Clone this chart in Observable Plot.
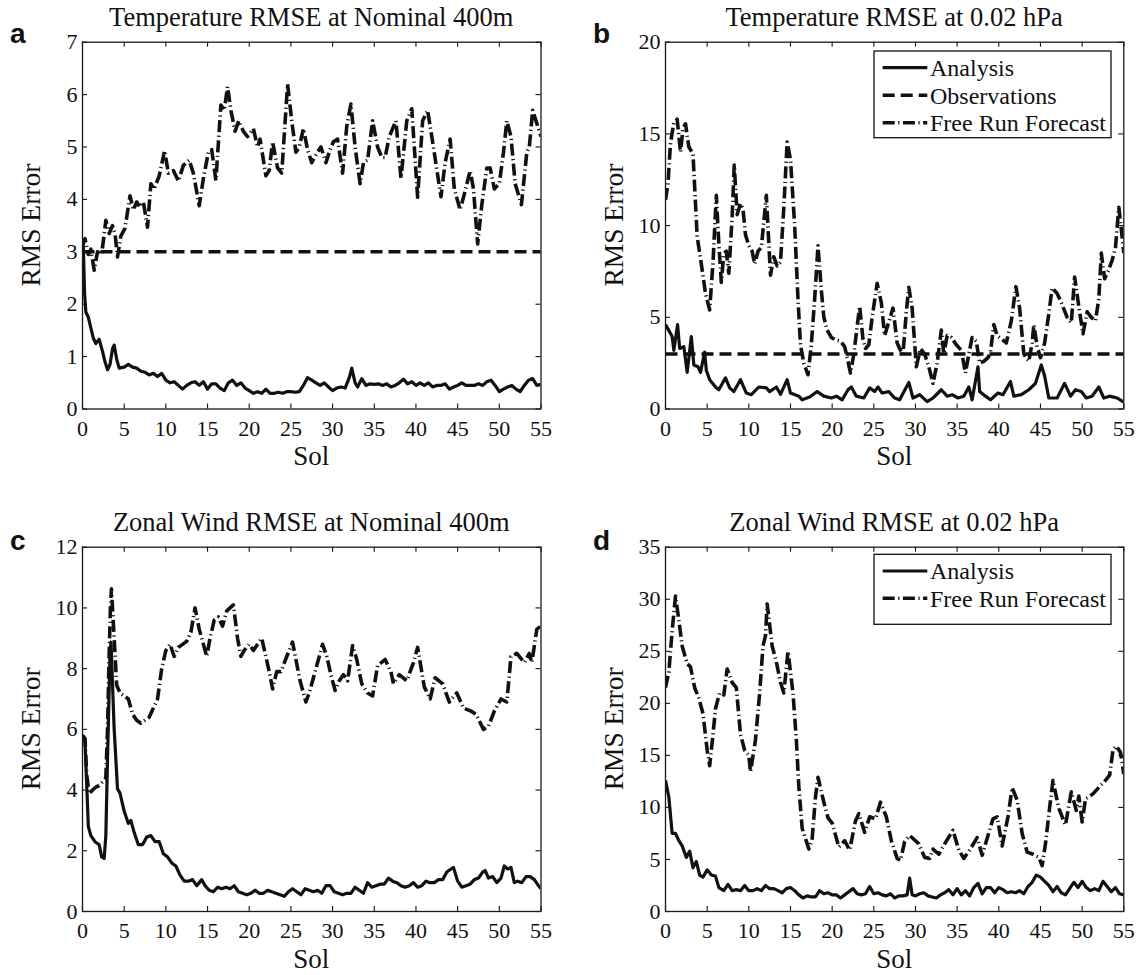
<!DOCTYPE html>
<html><head><meta charset="utf-8">
<script src="https://cdn.jsdelivr.net/npm/d3@7"></script>
<script src="https://cdn.jsdelivr.net/npm/@observablehq/plot@0.6"></script>
<style>
html,body{margin:0;padding:0;background:#fff;}
#root{position:relative;width:1139px;height:975px;overflow:hidden;font-family:"Liberation Serif","Times New Roman",serif;}
.panel{position:absolute;}
</style></head>
<body><div id="root"></div>
<script>
// ---------- data ----------
const xTicks = [0,5,10,15,20,25,30,35,40,45,50,55];
const yTicksA = [0,1,2,3,4,5,6,7];
const yTicksB = [0,5,10,15,20];
const yTicksC = [0,2,4,6,8,10,12];
const yTicksD = [0,5,10,15,20,25,30,35];
const panelTitles = ["Temperature RMSE at Nominal 400m","Temperature RMSE at 0.02 hPa","Zonal Wind RMSE at Nominal 400m","Zonal Wind RMSE at 0.02 hPa"];
const panelLetters = ["a","b","c","d"];
const seriesNames = ["Analysis","Observations","Free Run Forecast"];
const xLabel = "Sol";
const yLabel = "RMS Error";

// [sol, RMS error]
const tempNomAnalysis = [[0,3.0],[0.1,3.1],[0.25,2.2],[0.4,1.85],[0.7,1.75],[1.0,1.55],[1.3,1.35],[1.6,1.25],[2.0,1.33],[2.4,1.1],[2.7,0.9],[3.0,0.75],[3.3,0.85],[3.6,1.15],[3.8,1.22],[4.1,0.95],[4.4,0.78],[5.0,0.8],[5.5,0.85],[6.0,0.8],[6.5,0.78],[7.0,0.72],[7.5,0.7],[8.0,0.65],[8.5,0.68],[9.0,0.62],[9.5,0.68],[10.0,0.55],[10.5,0.5],[11.0,0.52],[11.5,0.45],[12.0,0.38],[12.5,0.45],[13.0,0.5],[13.5,0.52],[14.0,0.45],[14.5,0.52],[15.0,0.38],[15.5,0.48],[16.0,0.48],[16.5,0.4],[17.0,0.35],[17.5,0.5],[18.0,0.55],[18.5,0.45],[19.0,0.5],[19.5,0.4],[20.0,0.35],[20.5,0.3],[21.0,0.33],[21.5,0.3],[22.0,0.38],[22.5,0.3],[23.0,0.3],[23.5,0.32],[24.0,0.3],[24.5,0.33],[25.0,0.33],[25.5,0.32],[26.0,0.33],[26.5,0.45],[27.0,0.6],[27.5,0.55],[28.0,0.5],[28.5,0.45],[29.0,0.5],[29.5,0.42],[30.0,0.35],[30.5,0.4],[31.0,0.42],[31.5,0.4],[32.0,0.6],[32.3,0.78],[32.7,0.5],[33.0,0.42],[33.5,0.58],[34.0,0.45],[34.5,0.48],[35.0,0.47],[35.5,0.48],[36.0,0.45],[36.5,0.48],[37.0,0.42],[37.5,0.45],[38.0,0.5],[38.5,0.57],[39.0,0.48],[39.5,0.52],[40.0,0.45],[40.5,0.5],[41.0,0.45],[41.5,0.5],[42.0,0.42],[42.5,0.45],[43.0,0.45],[43.5,0.48],[44.0,0.38],[44.5,0.42],[45.0,0.45],[45.5,0.5],[46.0,0.45],[46.5,0.45],[47.0,0.45],[47.5,0.48],[48.0,0.45],[48.5,0.52],[49.0,0.55],[49.5,0.45],[50.0,0.33],[50.5,0.38],[51.0,0.42],[51.5,0.45],[52.0,0.38],[52.5,0.33],[53.0,0.45],[53.5,0.55],[54.0,0.58],[54.5,0.45],[55,0.47]];
const tempNomObs = [[0,3],[55,3]];
const tempNomForecast = [[0,3.1],[0.3,3.25],[0.7,2.95],[1.0,3.05],[1.4,2.65],[1.8,3.0],[2.3,2.95],[2.8,3.6],[3.2,3.35],[3.6,3.5],[3.9,3.35],[4.2,2.9],[4.6,3.3],[5.1,3.45],[5.7,4.07],[6.1,3.8],[6.5,3.95],[6.9,3.85],[7.3,3.95],[7.8,3.47],[8.2,4.3],[8.6,4.2],[9.2,4.45],[9.85,4.93],[10.3,4.5],[10.9,4.55],[11.5,4.35],[12.1,4.65],[12.8,4.75],[13.3,4.5],[14.0,3.88],[14.5,4.4],[15.1,4.9],[15.5,4.95],[16.0,4.36],[16.6,5.8],[17.0,5.7],[17.4,6.15],[17.8,5.7],[18.3,5.3],[18.75,5.5],[19.3,5.3],[19.8,5.2],[20.5,5.35],[21.0,5.0],[21.3,5.15],[22.0,4.45],[22.4,4.55],[22.8,5.1],[23.4,4.6],[23.9,4.5],[24.6,6.2],[25.1,5.5],[25.6,4.9],[26.0,5.0],[26.5,5.35],[27.0,4.95],[27.5,4.7],[28.0,4.85],[28.6,5.0],[29.2,4.7],[29.7,4.95],[30.1,5.1],[30.6,5.15],[31.2,4.5],[31.7,5.4],[32.2,5.82],[32.7,5.0],[33.3,4.3],[33.7,4.7],[34.2,4.75],[34.8,5.5],[35.4,5.0],[35.9,4.8],[36.3,4.8],[36.8,5.2],[37.6,5.5],[38.2,4.4],[38.9,5.5],[39.5,5.73],[40.2,4.04],[40.8,5.5],[41.4,5.7],[42.0,5.1],[43.0,4.05],[43.5,4.7],[44.1,5.15],[44.6,4.2],[45.3,3.8],[45.8,4.1],[46.5,4.55],[46.9,4.2],[47.4,3.15],[47.9,3.9],[48.5,4.6],[48.9,4.6],[49.4,4.2],[50.0,4.3],[50.5,4.9],[50.9,5.5],[51.4,5.2],[51.9,4.3],[52.65,3.9],[53.3,4.9],[53.6,5.0],[54.0,5.7],[54.4,5.5],[55,5.2]];

const tempHighAnalysis = [[0,4.6],[0.8,3.95],[1.0,3.2],[1.45,4.6],[1.7,3.3],[2.2,3.4],[2.6,2.0],[3.1,3.95],[3.4,2.4],[3.9,2.3],[4.2,2.0],[4.7,3.1],[4.9,2.1],[5.3,1.6],[6.0,1.2],[6.4,1.05],[7.2,1.7],[7.7,1.15],[8.2,0.95],[9.0,1.6],[9.7,0.87],[10.3,0.78],[11.2,1.2],[12.1,1.15],[12.5,0.95],[13.3,1.2],[13.8,0.8],[14.6,1.6],[15.0,0.87],[16.0,0.7],[16.4,0.5],[17.3,0.65],[18.2,0.95],[19.0,0.7],[19.9,0.6],[20.5,0.7],[21.2,0.5],[21.9,1.05],[22.3,1.2],[22.9,0.7],[23.8,0.6],[24.5,1.15],[25.1,0.95],[25.5,1.2],[26.0,0.87],[26.8,0.95],[27.5,0.6],[28.1,0.5],[29.2,1.45],[29.7,0.6],[30.5,0.78],[31.4,0.4],[32.1,0.6],[33.1,1.05],[33.8,0.7],[34.4,0.78],[35.1,0.6],[35.8,0.7],[36.4,1.2],[36.8,0.5],[37.5,2.3],[37.7,0.95],[38.4,0.7],[39.0,0.5],[39.9,0.87],[40.5,0.78],[41.4,1.5],[41.8,0.7],[42.7,0.78],[43.6,1.05],[44.4,1.4],[45.1,2.4],[45.5,1.8],[46.0,0.6],[47.0,0.6],[47.9,1.4],[48.6,0.7],[49.2,1.05],[49.9,0.95],[50.5,0.6],[51.2,0.7],[52.0,1.2],[52.6,0.6],[53.3,0.7],[54.2,0.6],[54.9,0.4],[55,0.4]];
const tempHighObs = [[0,3],[55,3]];
const tempHighForecast = [[0,11.4],[0.3,12.3],[0.6,14.5],[1.0,15.6],[1.4,15.8],[1.8,14.0],[2.1,15.3],[2.4,15.55],[2.8,14.3],[3.3,13.9],[3.8,9.4],[4.3,7.9],[4.8,6.3],[5.3,5.4],[5.7,8.0],[6.1,11.65],[6.4,9.0],[6.7,6.9],[7.0,8.5],[7.3,8.6],[7.6,7.4],[8.0,10.5],[8.25,13.3],[8.6,10.6],[9.0,11.2],[9.3,10.9],[9.6,9.5],[10.0,8.9],[10.4,8.6],[10.7,7.9],[11.1,8.6],[11.5,8.8],[12.1,11.65],[12.6,7.3],[13.0,8.3],[13.4,7.8],[13.8,8.0],[14.2,11.0],[14.6,14.55],[15.0,13.6],[15.5,10.0],[15.9,6.0],[16.2,3.5],[16.6,2.5],[17.1,1.87],[17.5,3.5],[17.9,6.0],[18.3,8.9],[18.7,6.5],[19.0,5.0],[19.4,4.3],[19.9,3.9],[20.5,3.75],[21.0,3.7],[21.5,3.4],[21.9,2.6],[22.2,1.96],[22.6,3.0],[23.0,4.5],[23.3,5.6],[23.7,3.8],[24.0,3.3],[24.4,3.5],[24.8,5.0],[25.4,6.85],[25.9,5.8],[26.3,4.0],[26.7,4.6],[27.3,5.5],[27.8,3.6],[28.2,3.2],[28.5,3.0],[28.9,5.3],[29.2,6.64],[29.6,5.5],[30.1,2.3],[30.6,3.3],[31.1,3.0],[31.6,2.3],[32.1,1.4],[32.6,2.5],[33.1,4.3],[33.4,3.0],[33.8,4.0],[34.3,3.9],[34.9,3.5],[35.5,3.2],[36.0,1.96],[36.4,3.0],[36.8,3.9],[37.3,3.7],[37.7,2.5],[38.2,2.6],[38.7,2.8],[39.0,3.1],[39.4,4.6],[39.8,4.0],[40.4,3.8],[40.9,3.6],[41.5,4.8],[42.05,6.67],[42.5,5.5],[43.0,3.0],[43.6,2.6],[44.0,3.6],[44.2,4.6],[44.6,3.4],[45.0,2.8],[45.5,3.6],[46.0,5.2],[46.4,6.6],[47.0,6.3],[47.5,5.8],[48.2,5.0],[48.7,4.7],[49.1,7.2],[49.6,5.6],[50.1,4.1],[50.6,5.3],[51.1,5.0],[51.6,4.8],[52.0,6.0],[52.3,8.5],[52.7,7.1],[53.1,7.5],[53.6,8.1],[54.0,8.8],[54.4,11.0],[54.7,9.8],[55,8.5]];

const windNomAnalysis = [[0,5.8],[0.3,5.6],[0.7,2.8],[1.0,2.5],[1.5,2.3],[2.0,2.2],[2.3,1.8],[2.6,1.75],[2.8,2.5],[3.0,5.0],[3.3,8.5],[3.42,8.87],[3.8,6.0],[4.2,4.04],[4.5,3.9],[5.0,3.3],[5.5,2.9],[5.8,3.0],[6.2,2.6],[6.7,2.2],[7.2,2.2],[7.7,2.45],[8.2,2.5],[8.7,2.3],[9.2,2.3],[9.7,1.9],[10.2,1.8],[10.7,1.6],[11.2,1.5],[11.7,1.2],[12.2,1.0],[12.7,1.0],[13.2,1.05],[13.7,0.85],[14.3,1.05],[14.7,0.85],[15.2,0.7],[15.7,0.65],[16.2,0.8],[16.7,0.75],[17.2,0.8],[17.7,0.75],[18.2,0.85],[18.7,0.65],[19.2,0.6],[19.7,0.55],[20.2,0.6],[20.7,0.7],[21.2,0.6],[21.7,0.6],[22.2,0.7],[22.7,0.65],[23.2,0.6],[23.7,0.55],[24.2,0.5],[24.7,0.65],[25.2,0.75],[25.7,0.65],[26.2,0.55],[26.7,0.75],[27.2,0.7],[27.7,0.65],[28.2,0.7],[28.7,0.6],[29.2,0.85],[29.7,0.85],[30.2,0.65],[30.7,0.6],[31.2,0.55],[31.7,0.6],[32.2,0.6],[32.7,0.8],[33.2,0.7],[33.7,0.6],[34.2,0.95],[34.7,0.8],[35.2,0.85],[35.7,0.9],[36.2,0.9],[36.7,1.1],[37.2,1.0],[37.7,0.95],[38.2,0.85],[38.7,0.8],[39.2,0.85],[39.7,0.95],[40.2,0.8],[40.7,0.85],[41.2,1.0],[41.7,0.95],[42.2,0.95],[42.7,1.05],[43.2,1.05],[43.7,1.3],[44.2,1.4],[44.5,1.45],[45.0,1.0],[45.5,0.8],[46.0,0.85],[46.5,0.9],[47.0,1.05],[47.5,1.1],[48.0,1.3],[48.3,1.35],[48.7,1.1],[49.2,1.15],[49.7,0.95],[50.2,1.1],[50.6,1.5],[51.0,1.4],[51.4,1.45],[51.8,0.95],[52.2,1.0],[52.7,0.95],[53.2,1.15],[53.7,1.15],[54.2,1.05],[54.7,0.85],[55,0.75]];
const windNomForecast = [[0,5.8],[0.3,5.7],[0.5,4.5],[0.8,3.88],[1.2,4.0],[1.6,4.1],[2.0,4.15],[2.5,4.3],[2.8,4.4],[3.0,6.0],[3.2,8.5],[3.35,10.0],[3.47,10.63],[3.7,9.5],[4.1,7.45],[4.5,7.2],[5.0,7.1],[5.5,7.0],[6.0,6.5],[6.5,6.3],[7.0,6.2],[7.5,6.3],[8.0,6.4],[8.5,6.7],[9.0,7.0],[9.5,8.0],[10.0,8.6],[10.5,8.8],[11.0,8.4],[11.5,8.7],[12.0,8.8],[12.5,8.9],[13.0,9.2],[13.5,10.0],[14.0,9.3],[14.5,8.8],[14.9,8.4],[15.3,9.0],[15.8,9.6],[16.3,9.7],[16.8,9.4],[17.3,9.9],[18.1,10.1],[18.6,9.0],[19.0,8.4],[19.4,8.6],[20.0,8.8],[20.5,8.6],[21.0,8.8],[21.5,9.0],[22.0,8.4],[22.4,7.9],[22.8,7.33],[23.3,7.9],[23.8,7.9],[24.5,8.4],[25.2,8.87],[25.6,8.3],[26.1,7.6],[26.8,6.9],[27.3,7.3],[27.8,7.8],[28.3,8.3],[28.8,8.8],[29.3,8.4],[29.8,7.8],[30.3,7.28],[30.8,7.6],[31.3,7.8],[31.8,7.6],[32.4,8.76],[32.9,8.3],[33.5,7.5],[34.2,7.2],[34.8,7.1],[35.4,8.1],[36.3,8.3],[37.0,7.9],[37.3,7.5],[38.0,7.8],[38.9,7.6],[39.7,8.2],[40.2,8.7],[41.0,7.4],[41.7,7.0],[42.3,7.7],[43.2,7.5],[44.0,6.9],[44.9,7.2],[45.7,6.7],[46.6,6.6],[47.2,6.5],[48.1,6.0],[48.7,6.1],[49.4,6.6],[50.2,7.0],[50.9,6.9],[51.4,8.4],[52.1,8.5],[53.0,8.2],[53.6,8.5],[53.9,8.2],[54.5,9.3],[55,9.4]];

const windHighAnalysis = [[0,12.6],[0.4,11.0],[0.8,7.5],[1.2,7.5],[1.6,6.8],[2.0,6.3],[2.5,5.2],[2.9,5.8],[3.3,4.2],[3.7,4.8],[4.1,3.5],[4.5,3.3],[5.0,4.0],[5.5,3.5],[6.0,3.4],[6.4,2.3],[7.0,2.0],[7.5,2.6],[8.0,2.0],[8.5,2.1],[9.0,2.0],[9.5,2.5],[10.0,2.0],[10.5,2.0],[11.0,2.2],[11.5,2.0],[12.0,2.5],[12.5,2.2],[13.0,2.2],[13.5,2.0],[14.0,1.8],[14.5,2.2],[15.0,2.3],[15.5,2.0],[16.0,1.6],[16.5,1.3],[17.0,1.5],[17.5,1.4],[18.0,1.4],[18.5,2.0],[19.0,1.7],[19.5,1.8],[20.0,1.6],[20.5,1.6],[21.0,1.3],[21.5,1.6],[22.0,1.9],[22.5,2.2],[23.0,1.7],[23.5,1.6],[24.0,1.7],[24.5,2.4],[25.0,1.7],[25.5,1.8],[26.0,1.6],[26.5,1.5],[27.0,1.7],[27.5,1.3],[28.0,1.5],[28.5,1.5],[29.0,1.6],[29.3,3.2],[29.6,1.6],[30.0,1.5],[30.5,1.7],[31.0,1.8],[31.5,1.5],[32.0,1.4],[32.5,1.3],[33.0,1.6],[33.5,1.8],[34.0,2.1],[34.5,1.6],[35.0,2.2],[35.5,1.6],[36.0,2.0],[36.5,1.5],[37.0,2.3],[37.5,2.7],[38.0,1.7],[38.5,2.3],[39.0,2.3],[39.5,1.8],[40.0,2.3],[40.5,2.1],[41.0,1.8],[41.5,1.9],[42.0,1.8],[42.5,2.0],[43.0,1.7],[43.5,2.4],[44.0,2.8],[44.5,3.5],[45.0,3.3],[45.5,2.9],[46.0,2.5],[46.5,1.9],[47.0,2.4],[47.5,1.8],[48.0,1.6],[48.5,2.2],[49.0,2.8],[49.5,2.3],[50.0,2.9],[50.5,2.3],[51.0,2.0],[51.5,2.2],[52.0,2.0],[52.5,2.9],[53.0,2.4],[53.5,1.9],[54.0,2.3],[54.5,1.7],[55,1.6]];
const windHighForecast = [[0,21.5],[0.4,23.0],[0.8,27.0],[1.2,30.3],[1.6,28.0],[2.0,25.5],[2.6,23.8],[3.0,23.5],[3.5,21.5],[4.0,20.5],[4.5,19.0],[5.0,15.5],[5.3,14.0],[5.7,17.0],[6.0,19.5],[6.5,21.0],[7.0,20.8],[7.4,23.3],[8.0,22.0],[8.5,21.5],[9.0,17.0],[9.5,15.5],[10.0,15.0],[10.2,13.4],[10.8,16.5],[11.3,21.0],[11.7,25.5],[12.0,26.5],[12.2,29.55],[12.8,25.5],[13.3,24.0],[13.8,22.0],[14.2,21.0],[14.7,25.0],[15.3,21.0],[15.7,16.5],[16.0,12.0],[16.4,8.0],[16.8,7.0],[17.2,6.0],[17.6,7.0],[18.0,11.0],[18.3,12.9],[19.0,10.5],[19.5,9.0],[20.0,8.5],[20.8,6.2],[21.5,6.8],[22.1,5.9],[22.8,8.7],[23.2,9.4],[23.9,7.6],[24.5,9.1],[25.2,8.9],[25.8,10.5],[26.5,9.1],[27.1,6.8],[27.8,5.1],[28.2,4.9],[28.7,6.7],[29.3,7.3],[30.0,6.8],[30.4,6.5],[31.1,5.2],[31.7,5.1],[32.1,6.0],[32.8,5.5],[33.5,6.5],[34.5,7.8],[35.2,5.9],[35.8,5.1],[36.5,5.9],[37.4,7.1],[38.0,5.4],[38.7,7.3],[39.3,8.9],[39.8,9.1],[40.4,6.3],[41.1,9.1],[41.6,11.9],[42.2,10.7],[42.8,7.5],[43.4,5.7],[44.1,5.5],[44.8,5.2],[45.2,4.4],[45.6,6.5],[46.1,10.0],[46.5,12.6],[47.2,9.9],[48.0,8.3],[48.7,11.5],[49.3,9.7],[49.6,11.1],[50.0,8.6],[50.4,10.8],[51.3,11.3],[52.2,12.1],[52.8,12.6],[53.3,13.1],[53.7,15.5],[54.1,15.9],[54.6,15.3],[55,13.2]];

// ---------- styling / layout ----------
const lineStyle = {
  "Analysis": {strokeWidth: 3.2, strokeDasharray: null},
  "Observations": {strokeWidth: 3.6, strokeDasharray: "12,6"},
  "Free Run Forecast": {strokeWidth: 3.6, strokeDasharray: "12,3.5,1.2,3.5"}
};
const INK = "#111";
const serif = "'Liberation Serif','Times New Roman',serif";

const panels = [
  {box:{left:0,top:0,width:570,height:470,ml:82,mr:29.5,mt:41.7,mb:61.5}, yMax:7, yTicks:yTicksA,
   series:[["Observations",tempNomObs],["Free Run Forecast",tempNomForecast],["Analysis",tempNomAnalysis]], legend:null},
  {box:{left:570,top:0,width:569,height:470,ml:95,mr:15.7,mt:41.7,mb:61.5}, yMax:20, yTicks:yTicksB,
   series:[["Observations",tempHighObs],["Free Run Forecast",tempHighForecast],["Analysis",tempHighAnalysis]],
   legend:{x:874,y:51,w:237,h:86.7,items:[seriesNames[0],seriesNames[1],seriesNames[2]]}},
  {box:{left:0,top:480,width:570,height:495,ml:82,mr:29.5,mt:66.7,mb:64}, yMax:12, yTicks:yTicksC,
   series:[["Free Run Forecast",windNomForecast],["Analysis",windNomAnalysis]], legend:null},
  {box:{left:570,top:480,width:569,height:495,ml:95,mr:15.7,mt:66.7,mb:64}, yMax:35, yTicks:yTicksD,
   series:[["Free Run Forecast",windHighForecast],["Analysis",windHighAnalysis]],
   legend:{x:874,y:554.3,w:237,h:70,items:[seriesNames[0],seriesNames[2]]}}
];

const root = document.getElementById("root");
const TICK = 5;

panels.forEach((p, i) => {
  const b = p.box;
  const innerW = b.width - b.ml - b.mr;
  const innerH = b.height - b.mt - b.mb;
  const marks = [];
  p.series.forEach(([name, data]) => {
    const st = lineStyle[name];
    marks.push(Plot.line(data, {stroke: INK, strokeWidth: st.strokeWidth, strokeDasharray: st.strokeDasharray,
      strokeLinecap: "butt", strokeLinejoin: "round", clip: true}));
  });
  marks.push(
    // inward tick marks on all four sides
    Plot.ruleX(xTicks, {stroke: INK, strokeWidth: 1.1, insetTop: innerH - TICK}),
    Plot.ruleX(xTicks, {stroke: INK, strokeWidth: 1.1, insetBottom: innerH - TICK}),
    Plot.ruleY(p.yTicks, {stroke: INK, strokeWidth: 1.1, insetRight: innerW - TICK}),
    Plot.ruleY(p.yTicks, {stroke: INK, strokeWidth: 1.1, insetLeft: innerW - TICK}),
    Plot.frame({stroke: "#1a1a1a", strokeWidth: 1.3}),
    Plot.axisX({anchor: "bottom", ticks: xTicks, tickSize: 0, tickPadding: 11, label: null, tickFormat: d => String(d)}),
    Plot.axisY({anchor: "left", ticks: p.yTicks, tickSize: 0, tickPadding: 5, label: null, tickFormat: d => String(d)})
  );
  const chart = Plot.plot({
    width: b.width, height: b.height,
    marginLeft: b.ml, marginRight: b.mr, marginTop: b.mt, marginBottom: b.mb,
    x: {domain: [0, 55], nice: false},
    y: {domain: [0, p.yMax], nice: false},
    style: {fontFamily: serif, fontSize: "22px", color: INK, background: "transparent", overflow: "visible"},
    marks
  });
  const wrap = document.createElement("div");
  wrap.className = "panel";
  wrap.style.left = b.left + "px";
  wrap.style.top = b.top + "px";
  wrap.appendChild(chart);
  root.appendChild(wrap);
  p.frame = {x0: b.left + b.ml, x1: b.left + b.width - b.mr, y0: b.top + b.mt, y1: b.top + b.height - b.mb};
});

// ---------- text overlay: titles, letters, axis labels, legends ----------
const ov = d3.select(root).append("svg")
  .attr("width", 1139).attr("height", 975)
  .style("position", "absolute").style("left", 0).style("top", 0)
  .style("font-family", serif).style("fill", INK);

panels.forEach((p, i) => {
  const f = p.frame;
  const cx = (f.x0 + f.x1) / 2, cy = (f.y0 + f.y1) / 2;
  ov.append("text").attr("x", cx).attr("y", f.y0 - 16).attr("text-anchor", "middle")
    .attr("font-size", 26.5).text(panelTitles[i]);
  ov.append("text").attr("x", f.x0 - 72).attr("y", f.y0 + (i < 2 ? 1.5 : 3.5))
    .attr("font-family", "'Liberation Sans',Arial,sans-serif").attr("font-weight", "bold")
    .attr("font-size", 28).text(panelLetters[i]);
  ov.append("text").attr("x", cx).attr("y", f.y1 + 56.5).attr("text-anchor", "middle")
    .attr("font-size", 27).text(xLabel);
  ov.append("text").attr("transform", `translate(${f.x0 - 42},${cy}) rotate(-90)`)
    .attr("text-anchor", "middle").attr("font-size", 27.5).text(yLabel);

  if (p.legend) {
    const L = p.legend;
    const g = ov.append("g");
    g.append("rect").attr("x", L.x).attr("y", L.y).attr("width", L.w).attr("height", L.h)
      .attr("fill", "#fff").attr("stroke", INK).attr("stroke-width", 1.3);
    const rowStep = L.items.length === 3 ? 27.5 : 27.3;
    L.items.forEach((name, k) => {
      const yy = L.y + 16.7 + k * rowStep;
      const st = lineStyle[name];
      g.append("line").attr("x1", L.x + 8.7).attr("x2", L.x + 53.3).attr("y1", yy).attr("y2", yy)
        .attr("stroke", INK).attr("stroke-width", st.strokeWidth)
        .attr("stroke-dasharray", st.strokeDasharray).attr("stroke-linecap", "butt");
      g.append("text").attr("x", L.x + 56).attr("y", yy + 8.3).attr("font-size", 24).text(name);
    });
  }
});
</script>
</body></html>
